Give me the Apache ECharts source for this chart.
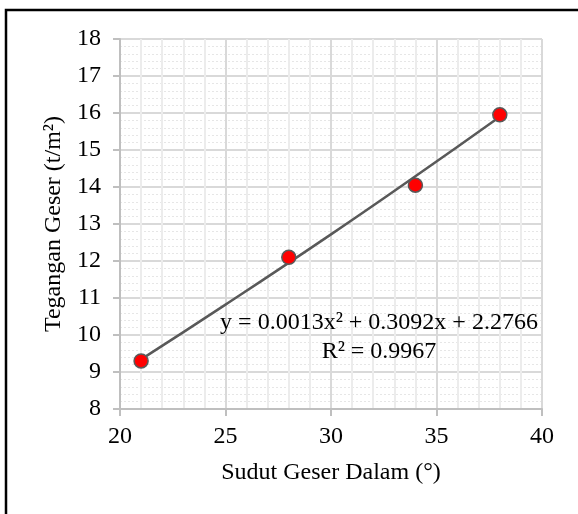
<!DOCTYPE html>
<html>
<head>
<meta charset="utf-8">
<script src="https://cdn.jsdelivr.net/npm/echarts@6/dist/echarts.min.js"></script>
<style>
html,body{margin:0;padding:0;background:#fff;}
#chart{width:578px;height:514px;}
</style>
</head>
<body>
<div id="chart"></div>
<script>
// data points
var sudut = [21, 28, 34, 38];
var tegangan = [9.3, 12.1, 14.05, 15.95];
// trendline (poly)
var trendX = [21, 25, 30, 34, 38];
var trendY = [9.34, 10.82, 12.72, 14.29, 15.90];
var eqText = ['y = 0.0013x\u00b2 + 0.3092x + 2.2766', 'R\u00b2 = 0.9967'];

var font = 'Liberation Serif, Times New Roman, serif';

var pts = sudut.map(function(x, i){ return [x, tegangan[i]]; });
var trend = trendX.map(function(x, i){ return [x, trendY[i]]; });

var myChart = echarts.init(document.getElementById('chart'));
myChart.setOption({
	animation:false,
	backgroundColor:'#fff',
	grid:{left:120, right:36, top:39, bottom:105},
	xAxis:{
		type:'value', min:20, max:40, interval:5,
		name:'Sudut Geser Dalam (\u00b0)', nameLocation:'middle', nameGap:52,
		nameTextStyle:{fontFamily:font, fontSize:24, color:'#000'},
		axisLine:{lineStyle:{color:'#bfbfbf', width:2}},
		axisTick:{show:true, length:7, lineStyle:{color:'#bfbfbf', width:2}},
		axisLabel:{fontFamily:font, fontSize:24, color:'#000', margin:16},
		splitLine:{lineStyle:{color:'#d9d9d9', width:2}},
		minorTick:{show:false, splitNumber:5},
		minorSplitLine:{show:true, lineStyle:{color:'#ececec', width:2}}
	},
	yAxis:{
		type:'value', min:8, max:18, interval:1,
		name:'Tegangan Geser (t/m\u00b2)', nameLocation:'middle', nameGap:53,
		nameTextStyle:{fontFamily:font, fontSize:24, color:'#000'},
		axisLine:{show:true, lineStyle:{color:'#bfbfbf', width:2}},
		axisTick:{show:true, length:7, lineStyle:{color:'#bfbfbf', width:2}},
		axisLabel:{fontFamily:font, fontSize:24, color:'#000', margin:19},
		splitLine:{lineStyle:{color:'#d9d9d9', width:2}},
		minorTick:{show:false, splitNumber:5},
		minorSplitLine:{show:true, lineStyle:{color:'#e6e6e6', width:1, type:[2,2]}}
	},
	series:[
		{
			type:'line', data:trend, smooth:true, showSymbol:false, symbol:'none',
			lineStyle:{color:'#595959', width:2.5}, z:2, silent:true
		},
		{
			type:'scatter', data:pts, symbolSize:14,
			itemStyle:{color:'#ff0000', borderColor:'#595959', borderWidth:1.5, opacity:1},
			z:3
		}
	],
	graphic:[
		{type:'rect', shape:{x:6, y:10, width:700, height:700}, style:{fill:null, stroke:'#000', lineWidth:2.5}, silent:true},
		{type:'text', x:379, y:323, z:100, style:{text:eqText[0], font:'24px ' + font, fill:'#000', align:'center', verticalAlign:'middle'}},
		{type:'text', x:379, y:352, z:100, style:{text:eqText[1], font:'24px ' + font, fill:'#000', align:'center', verticalAlign:'middle'}}
	]
});
</script>
</body>
</html>
